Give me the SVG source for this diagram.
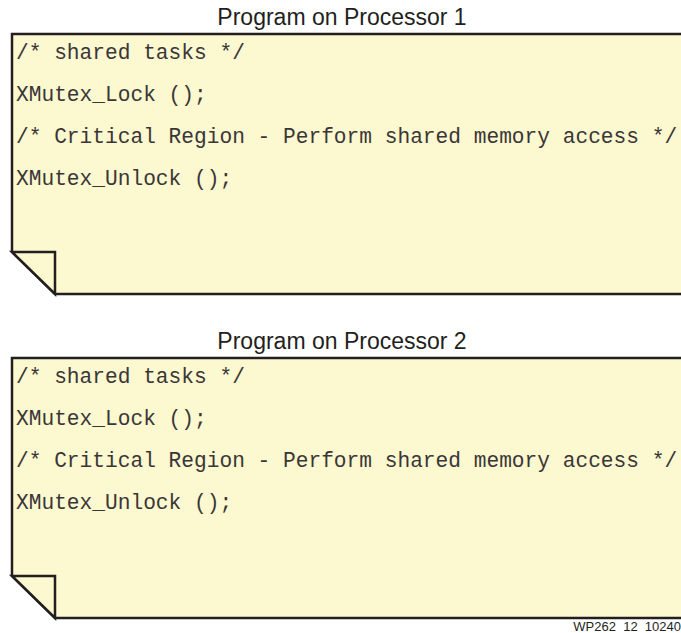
<svg xmlns="http://www.w3.org/2000/svg" width="681" height="633" viewBox="0 0 681 633">
  <style>
    .title { font-family: "Liberation Sans", Arial, sans-serif; font-size: 23px; fill: #231f20; text-anchor: middle; }
    .code { font-family: "Liberation Mono", "Courier New", monospace; font-size: 21.2px; fill: #3a3637; }
    .page { fill: #fcf8cf; stroke: #231f20; stroke-width: 2.5; stroke-linejoin: miter; }
    .fig-id { font-family: "Liberation Sans", Arial, sans-serif; font-size: 13px; fill: #231f20; text-anchor: end; }
  </style>
  <defs>
    <!-- A code listing drawn as a sheet with a dog-eared lower-left corner -->
    <g id="sheet">
      <path class="page" d="M12 0 H700 V260 H55 L12 218 Z"/>
      <path class="page" d="M12 218 H55 V260 Z"/>
    </g>
  </defs>

  <g id="processor1">
    <text class="title" x="342" y="25">Program on Processor 1</text>
    <use href="#sheet" x="0" y="34"/>
    <text class="code" x="16" y="59">/* shared tasks */</text>
    <text class="code" x="16" y="101">XMutex_Lock ();</text>
    <text class="code" x="16" y="143">/* Critical Region - Perform shared memory access */</text>
    <text class="code" x="16" y="185">XMutex_Unlock ();</text>
  </g>

  <g id="processor2">
    <text class="title" x="342" y="349">Program on Processor 2</text>
    <use href="#sheet" x="0" y="358"/>
    <text class="code" x="16" y="383">/* shared tasks */</text>
    <text class="code" x="16" y="425">XMutex_Lock ();</text>
    <text class="code" x="16" y="467">/* Critical Region - Perform shared memory access */</text>
    <text class="code" x="16" y="509">XMutex_Unlock ();</text>
  </g>

  <g id="connectors"/>

  <text class="fig-id" x="681" y="631">WP262_12_10240</text>
</svg>
